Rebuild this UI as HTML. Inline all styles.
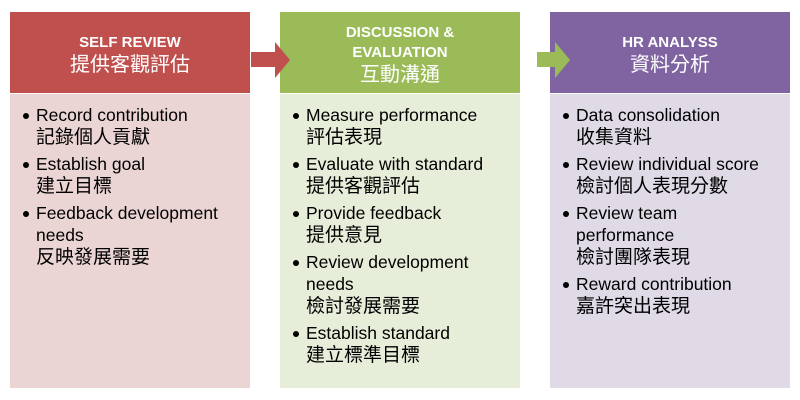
<!DOCTYPE html>
<html><head><meta charset="utf-8"><style>
body{margin:0;width:800px;height:400px;background:#fff;position:relative;overflow:hidden;font-family:"Liberation Sans","Noto Sans CJK TC",sans-serif}
.col{position:absolute;top:12px;width:240px;height:376px}
.hd{position:absolute;left:0;top:0;width:240px;height:81px;box-sizing:border-box;padding-top:4px;color:#fff;text-align:center;display:flex;flex-direction:column;justify-content:center}
.hd b{font-size:15px;line-height:20px}
.hd span{font-size:20px;line-height:24px}
.bd{position:absolute;left:0;top:82px;width:240px;height:294px}
ul{margin:0;padding:10px 10px 0 26px;list-style:none;font-size:17.5px;line-height:22px;color:#000}
li{position:relative;margin-bottom:5px}
li i{font-style:normal;font-size:19px;display:block;height:22px;line-height:24px}
li:before{content:"";position:absolute;left:-13px;top:9px;width:6px;height:6px;border-radius:50%;background:#000}
svg{position:absolute;left:0;top:0}
</style></head><body>
<div class="col" style="left:10px"><div class="hd" style="background:#C0504D"><b>SELF REVIEW</b><span>提供客觀評估</span></div>
<div class="bd" style="background:#EBD5D4"><ul>
<li>Record contribution<i>記錄個人貢獻</i></li>
<li>Establish goal<i>建立目標</i></li>
<li>Feedback development needs<i>反映發展需要</i></li></ul></div></div>
<div class="col" style="left:280px"><div class="hd" style="background:#9BBB59"><b>DISCUSSION &amp;<br>EVALUATION</b><span>互動溝通</span></div>
<div class="bd" style="background:#E6EDD9"><ul>
<li>Measure performance<i>評估表現</i></li>
<li>Evaluate with standard<i>提供客觀評估</i></li>
<li>Provide feedback<i>提供意見</i></li>
<li>Review development needs<i>檢討發展需要</i></li>
<li>Establish standard<i>建立標準目標</i></li></ul></div></div>
<div class="col" style="left:550px"><div class="hd" style="background:#8064A2"><b>HR ANALYSS</b><span>資料分析</span></div>
<div class="bd" style="background:#E0DAE6"><ul>
<li>Data consolidation<i>收集資料</i></li>
<li>Review individual score<i>檢討個人表現分數</i></li>
<li>Review team performance<i>檢討團隊表現</i></li>
<li>Reward contribution<i>嘉許突出表現</i></li></ul></div></div>
<svg width="800" height="400">
<polygon points="251,52 275,52 275,42 290,60 275,78 275,67 251,67" fill="#C0504D"/>
<polygon points="537,52 555,52 555,42 570,60 555,78 555,67 537,67" fill="#9BBB59"/>
</svg>
</body></html>
